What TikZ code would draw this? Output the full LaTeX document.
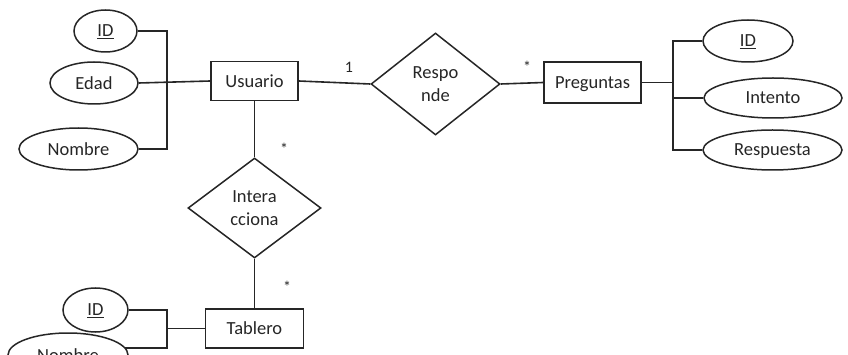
\documentclass[tikz,border=0pt]{standalone}
\usepackage{fontspec}
\setmainfont{Carlito}
\usetikzlibrary{shapes.geometric,backgrounds}
\definecolor{ink}{HTML}{262626}
\begin{document}
\begin{tikzpicture}[x=1pt,y=-1pt,line width=1.5pt,
  every node/.style={font=\fontsize{18.5}{23.5}\selectfont,text=ink},
  entbox/.style={draw=ink,rectangle,inner sep=0pt,fill=white,text depth=0pt},
  attr/.style={draw=ink,ellipse,inner sep=0pt,fill=white,text depth=0pt},
  relbox/.style={draw=ink,diamond,inner sep=0pt,fill=white,align=center},
  conn/.style={draw=ink,line width=1.6pt},
  card/.style={inner sep=0pt,font=\fontsize{16}{18}\selectfont}]
\useasboundingbox (0,0) rectangle (848,355);
\clip (0,0) rectangle (848,355);
% entities
\node[entbox,minimum width=87pt,minimum height=39pt] (usu) at (254.5,81) {Usuario};
\node[entbox,minimum width=97pt,minimum height=41pt] (pre) at (592.5,82.5) {Preguntas};
\node[entbox,minimum width=98pt,minimum height=39pt] (tab) at (254.5,328.5) {Tablero};
% relations
\node[relbox,minimum width=129pt,minimum height=102pt] (res) at (435.5,84) {Respo\\nde};
\node[relbox,minimum width=133pt,minimum height=100pt] (int) at (254.5,208) {Intera\\cciona};
% attributes Usuario
\node[attr,minimum width=63pt,minimum height=42pt] (uid) at (105.5,31) {\underline{ID}};
\node[attr,minimum width=88pt,minimum height=42pt] (ued) at (94,83) {Edad};
\node[attr,minimum width=119pt,minimum height=42pt] (unom) at (78.5,149) {Nombre};
% attributes Preguntas
\node[attr,minimum width=90pt,minimum height=42pt] (pid) at (748,41) {\underline{ID}};
\node[attr,minimum width=138pt,minimum height=40pt] (pint) at (773,98) {Intento};
\node[attr,minimum width=139pt,minimum height=40pt] (presp) at (772.5,150) {Respuesta};
% attributes Tablero
\node[attr,minimum width=65pt,minimum height=44pt] (tid) at (95.5,310) {\underline{ID}};
\node[attr,minimum width=120pt,minimum height=44pt] (tnom) at (68,355) {Nombre};
% bar coordinates
\coordinate (barL) at (167,0);
\coordinate (barR) at (673,0);
\coordinate (barB) at (167,348);
% cardinalities
\node[card] (c1) at (349,67) {1};
\node[card] (c2) at (527,67) {*};
\node[card] (c3) at (284,149) {*};
\node[card] (c4) at (287,287) {*};
\begin{scope}[on background layer]
\draw[conn] (ued.east) -- (usu.west);
\draw[conn] (uid.east) -- (uid.east -| barL) -- (unom.east -| barL) -- (unom.east);
\draw[conn] (usu.east) -- (res.west);
\draw[conn] (res.east) -- (pre.west);
\draw[conn] (pre.east) -- (pre.east -| barR);
\draw[conn] (pid.west) -- (pid.west -| barR) -- (presp.west -| barR) -- (presp.west);
\draw[conn] (pint.west -| barR) -- (pint.west);
\draw[conn] (usu.south) -- (int.north);
\draw[conn] (int.south) -- (tab.north);
\draw[conn] (tid.east) -- (tid.east -| barB) -- (barB) -- (tnom.center |- barB);
\draw[conn] (tab.west) -- (tab.west -| barB);
\end{scope}
\end{tikzpicture}
\end{document}
